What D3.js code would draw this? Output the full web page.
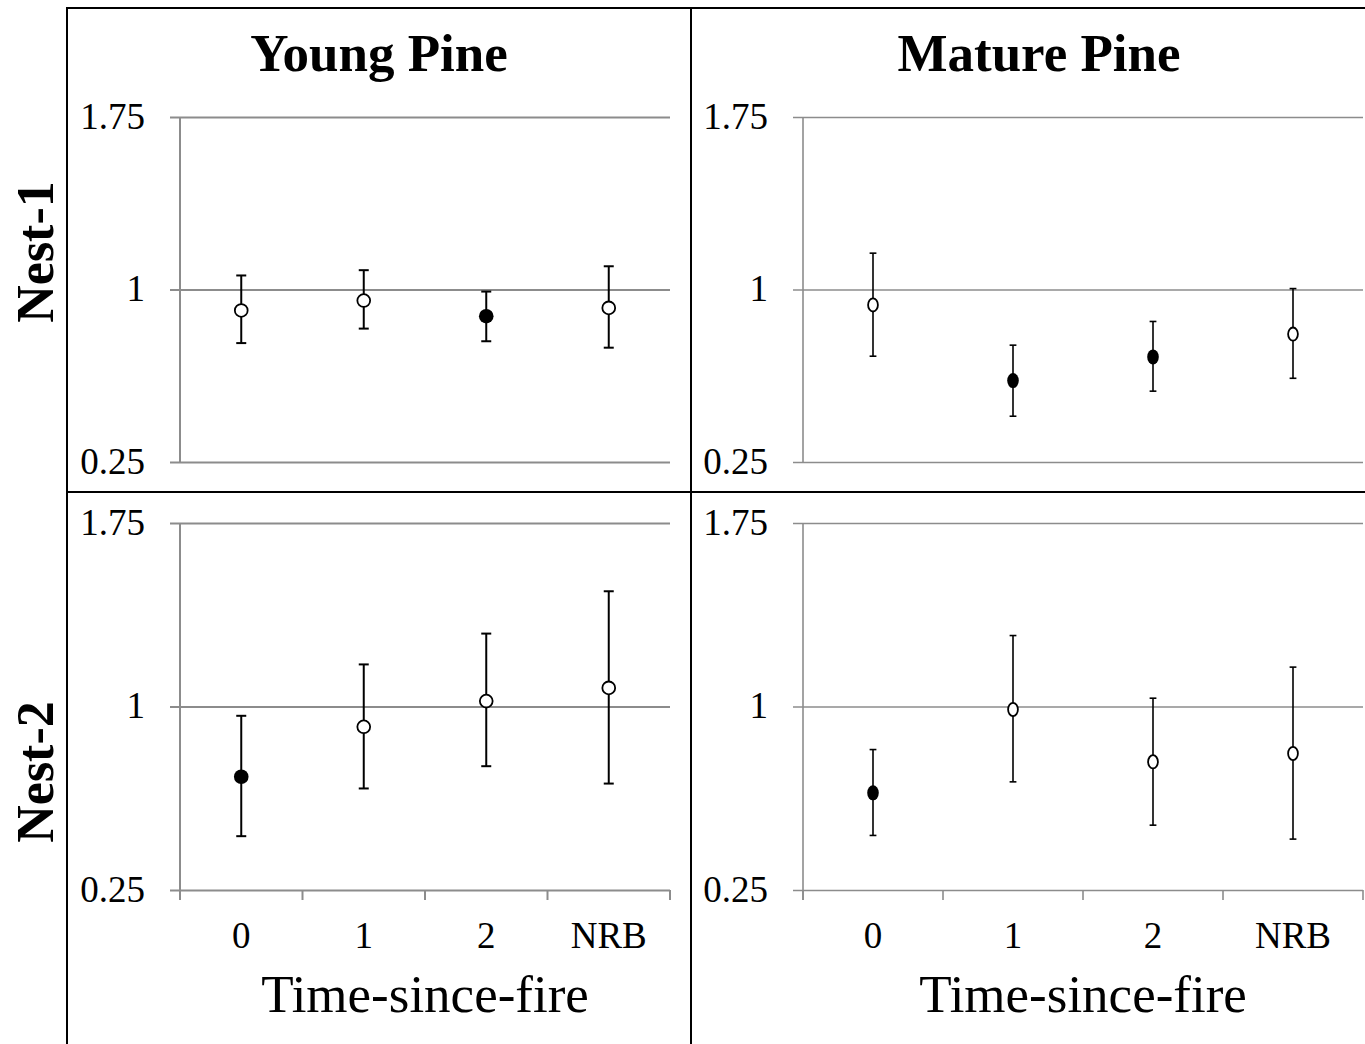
<!DOCTYPE html>
<html>
<head>
<meta charset="utf-8">
<title>Time-since-fire</title>
<script src="https://cdn.jsdelivr.net/npm/d3@7/dist/d3.min.js"></script>
<style>
  body { margin: 0; background: #fff; }
  svg { display: block; }
  text { font-family: "Liberation Serif", "Times New Roman", serif; fill: #000; }
  .grid line { stroke: #8c8c8c; }
  .grid .domain { display: none; }
</style>
</head>
<body>
<script>
// data
var categories = ["0", "1", "2", "NRB"];
var columnTitles = ["Young Pine", "Mature Pine"];
var rowTitles = ["Nest-1", "Nest-2"];
var yTicks = [0.25, 1, 1.75];

var youngNest1Mean  = [0.909, 0.952, 0.884, 0.920];
var youngNest1Lower = [0.767, 0.830, 0.775, 0.747];
var youngNest1Upper = [1.061, 1.084, 0.991, 1.101];
var youngNest1Filled = [false, false, true, false];

var matureNest1Mean  = [0.933, 0.604, 0.707, 0.806];
var matureNest1Lower = [0.710, 0.449, 0.558, 0.614];
var matureNest1Upper = [1.158, 0.758, 0.861, 1.004];
var matureNest1Filled = [false, true, true, false];

var youngNest2Mean  = [0.713, 0.917, 1.022, 1.076];
var youngNest2Lower = [0.470, 0.665, 0.756, 0.685];
var youngNest2Upper = [0.962, 1.172, 1.298, 1.471];
var youngNest2Filled = [true, false, false, false];

var matureNest2Mean  = [0.647, 0.988, 0.774, 0.808];
var matureNest2Lower = [0.473, 0.692, 0.515, 0.458];
var matureNest2Upper = [0.824, 1.290, 1.034, 1.161];
var matureNest2Filled = [true, false, false, false];

var panels = [
  { row: 0, col: 0, mean: youngNest1Mean, lo: youngNest1Lower, hi: youngNest1Upper, filled: youngNest1Filled },
  { row: 0, col: 1, mean: matureNest1Mean, lo: matureNest1Lower, hi: matureNest1Upper, filled: matureNest1Filled },
  { row: 1, col: 0, mean: youngNest2Mean, lo: youngNest2Lower, hi: youngNest2Upper, filled: youngNest2Filled },
  { row: 1, col: 1, mean: matureNest2Mean, lo: matureNest2Lower, hi: matureNest2Upper, filled: matureNest2Filled }
];

// layout
var width = 1365, height = 1044;
var colX = [[180, 670], [803, 1363]];     // plot area left/right
var rowY = [[462, 117], [890, 523]];      // plot area bottom/top
var colCenter = [379, 1039];              // panel title centres
var rowCenter = [252, 772];
var markRx = [6.4, 4.9], markRy = [6.4, 6.6], capW = [5, 3.4], barW = [2, 1.6], gridW = [2, 1.6];

var svg = d3.select("body").append("svg")
  .attr("width", width).attr("height", height);

// scales
var xScales = colX.map(function (r) {
  return d3.scaleBand().domain(categories).range(r);
});
var yScales = rowY.map(function (r) {
  return d3.scaleLinear().domain([0.25, 1.75]).range(r);
});

// frame lines
var frame = svg.append("g").attr("stroke", "#000").attr("stroke-width", 2);
frame.append("line").attr("x1", 67).attr("x2", 67).attr("y1", 7).attr("y2", height);
frame.append("line").attr("x1", 66).attr("x2", width).attr("y1", 8).attr("y2", 8);
frame.append("line").attr("x1", 67).attr("x2", width).attr("y1", 492).attr("y2", 492);
frame.append("line").attr("x1", 691).attr("x2", 691).attr("y1", 8).attr("y2", height);

// column and row titles
svg.selectAll(".colTitle").data(columnTitles).enter().append("text")
  .attr("class", "colTitle")
  .attr("x", function (d, i) { return colCenter[i]; })
  .attr("y", 71)
  .attr("text-anchor", "middle")
  .style("font-size", "53px").style("font-weight", "bold")
  .text(function (d) { return d; });

svg.selectAll(".rowTitle").data(rowTitles).enter().append("text")
  .attr("class", "rowTitle")
  .attr("transform", function (d, i) { return "translate(53," + rowCenter[i] + ") rotate(-90)"; })
  .attr("text-anchor", "middle")
  .style("font-size", "52px").style("font-weight", "bold")
  .text(function (d) { return d; });

panels.forEach(function (p) {
  var x = xScales[p.col], y = yScales[p.row];
  var x0 = colX[p.col][0], x1 = colX[p.col][1];
  var g = svg.append("g");

  // gridlines + y labels
  var grid = g.append("g").attr("class", "grid")
    .attr("transform", "translate(" + (x0 - 10) + ",0)")
    .call(d3.axisLeft(y).tickValues(yTicks).tickSize(-(x1 - x0 + 10)).tickPadding(25)
      .tickFormat(function (d) { return String(d); }));
  grid.selectAll("line").attr("stroke-width", gridW[p.col]);
  grid.selectAll("text")
    .attr("dy", "0.3em")
    .style("font-size", "37px")
    .style("font-family", "'Liberation Serif', serif")
    .attr("fill", "#000");

  // y axis line
  var yBottom = p.row === 1 ? rowY[p.row][0] + 10 : rowY[p.row][0];
  g.append("line")
    .attr("x1", x0).attr("x2", x0)
    .attr("y1", rowY[p.row][1]).attr("y2", yBottom)
    .attr("stroke", "#8c8c8c").attr("stroke-width", gridW[p.col]);

  // x axis only on the bottom row
  if (p.row === 1) {
    var bounds = categories.map(function (c) { return x(c); }).concat([x1]);
    g.selectAll(".xtick").data(bounds).enter().append("line")
      .attr("x1", function (d) { return d; }).attr("x2", function (d) { return d; })
      .attr("y1", rowY[p.row][0]).attr("y2", rowY[p.row][0] + 10)
      .attr("stroke", "#8c8c8c").attr("stroke-width", gridW[p.col]);

    var xa = g.append("g")
      .attr("transform", "translate(0," + rowY[p.row][0] + ")")
      .call(d3.axisBottom(x).tickSize(0).tickPadding(0));
    xa.select(".domain").remove();
    xa.selectAll("text")
      .attr("y", 58).attr("dy", null)
      .style("font-size", "37px")
      .style("font-family", "'Liberation Serif', serif")
      .attr("fill", "#000");

    g.append("text")
      .attr("x", (x0 + x1) / 2).attr("y", 1012)
      .attr("text-anchor", "middle")
      .style("font-size", "53px")
      .text("Time-since-fire");
  }

  // error bars
  var cx = function (i) { return x(categories[i]) + x.bandwidth() / 2; };
  var idx = d3.range(categories.length);
  var bars = g.selectAll(".bar").data(idx).enter().append("g")
    .attr("stroke", "#000").attr("stroke-width", barW[p.col]);
  bars.append("line")
    .attr("x1", cx).attr("x2", cx)
    .attr("y1", function (i) { return y(p.lo[i]); })
    .attr("y2", function (i) { return y(p.hi[i]); });
  bars.append("line")
    .attr("x1", function (i) { return cx(i) - capW[p.col]; })
    .attr("x2", function (i) { return cx(i) + capW[p.col]; })
    .attr("y1", function (i) { return y(p.lo[i]); })
    .attr("y2", function (i) { return y(p.lo[i]); });
  bars.append("line")
    .attr("x1", function (i) { return cx(i) - capW[p.col]; })
    .attr("x2", function (i) { return cx(i) + capW[p.col]; })
    .attr("y1", function (i) { return y(p.hi[i]); })
    .attr("y2", function (i) { return y(p.hi[i]); });

  // markers
  g.selectAll(".mark").data(idx).enter().append("ellipse")
    .attr("cx", cx)
    .attr("cy", function (i) { return y(p.mean[i]); })
    .attr("rx", function (i) { return p.filled[i] ? markRx[p.col] + 0.9 : markRx[p.col]; })
    .attr("ry", function (i) { return p.filled[i] ? markRy[p.col] + 0.9 : markRy[p.col]; })
    .attr("fill", function (i) { return p.filled[i] ? "#000" : "#fff"; })
    .attr("stroke", "#000")
    .attr("stroke-width", function (i) { return p.filled[i] ? 0 : 1.8; });
});
</script>
</body>
</html>
